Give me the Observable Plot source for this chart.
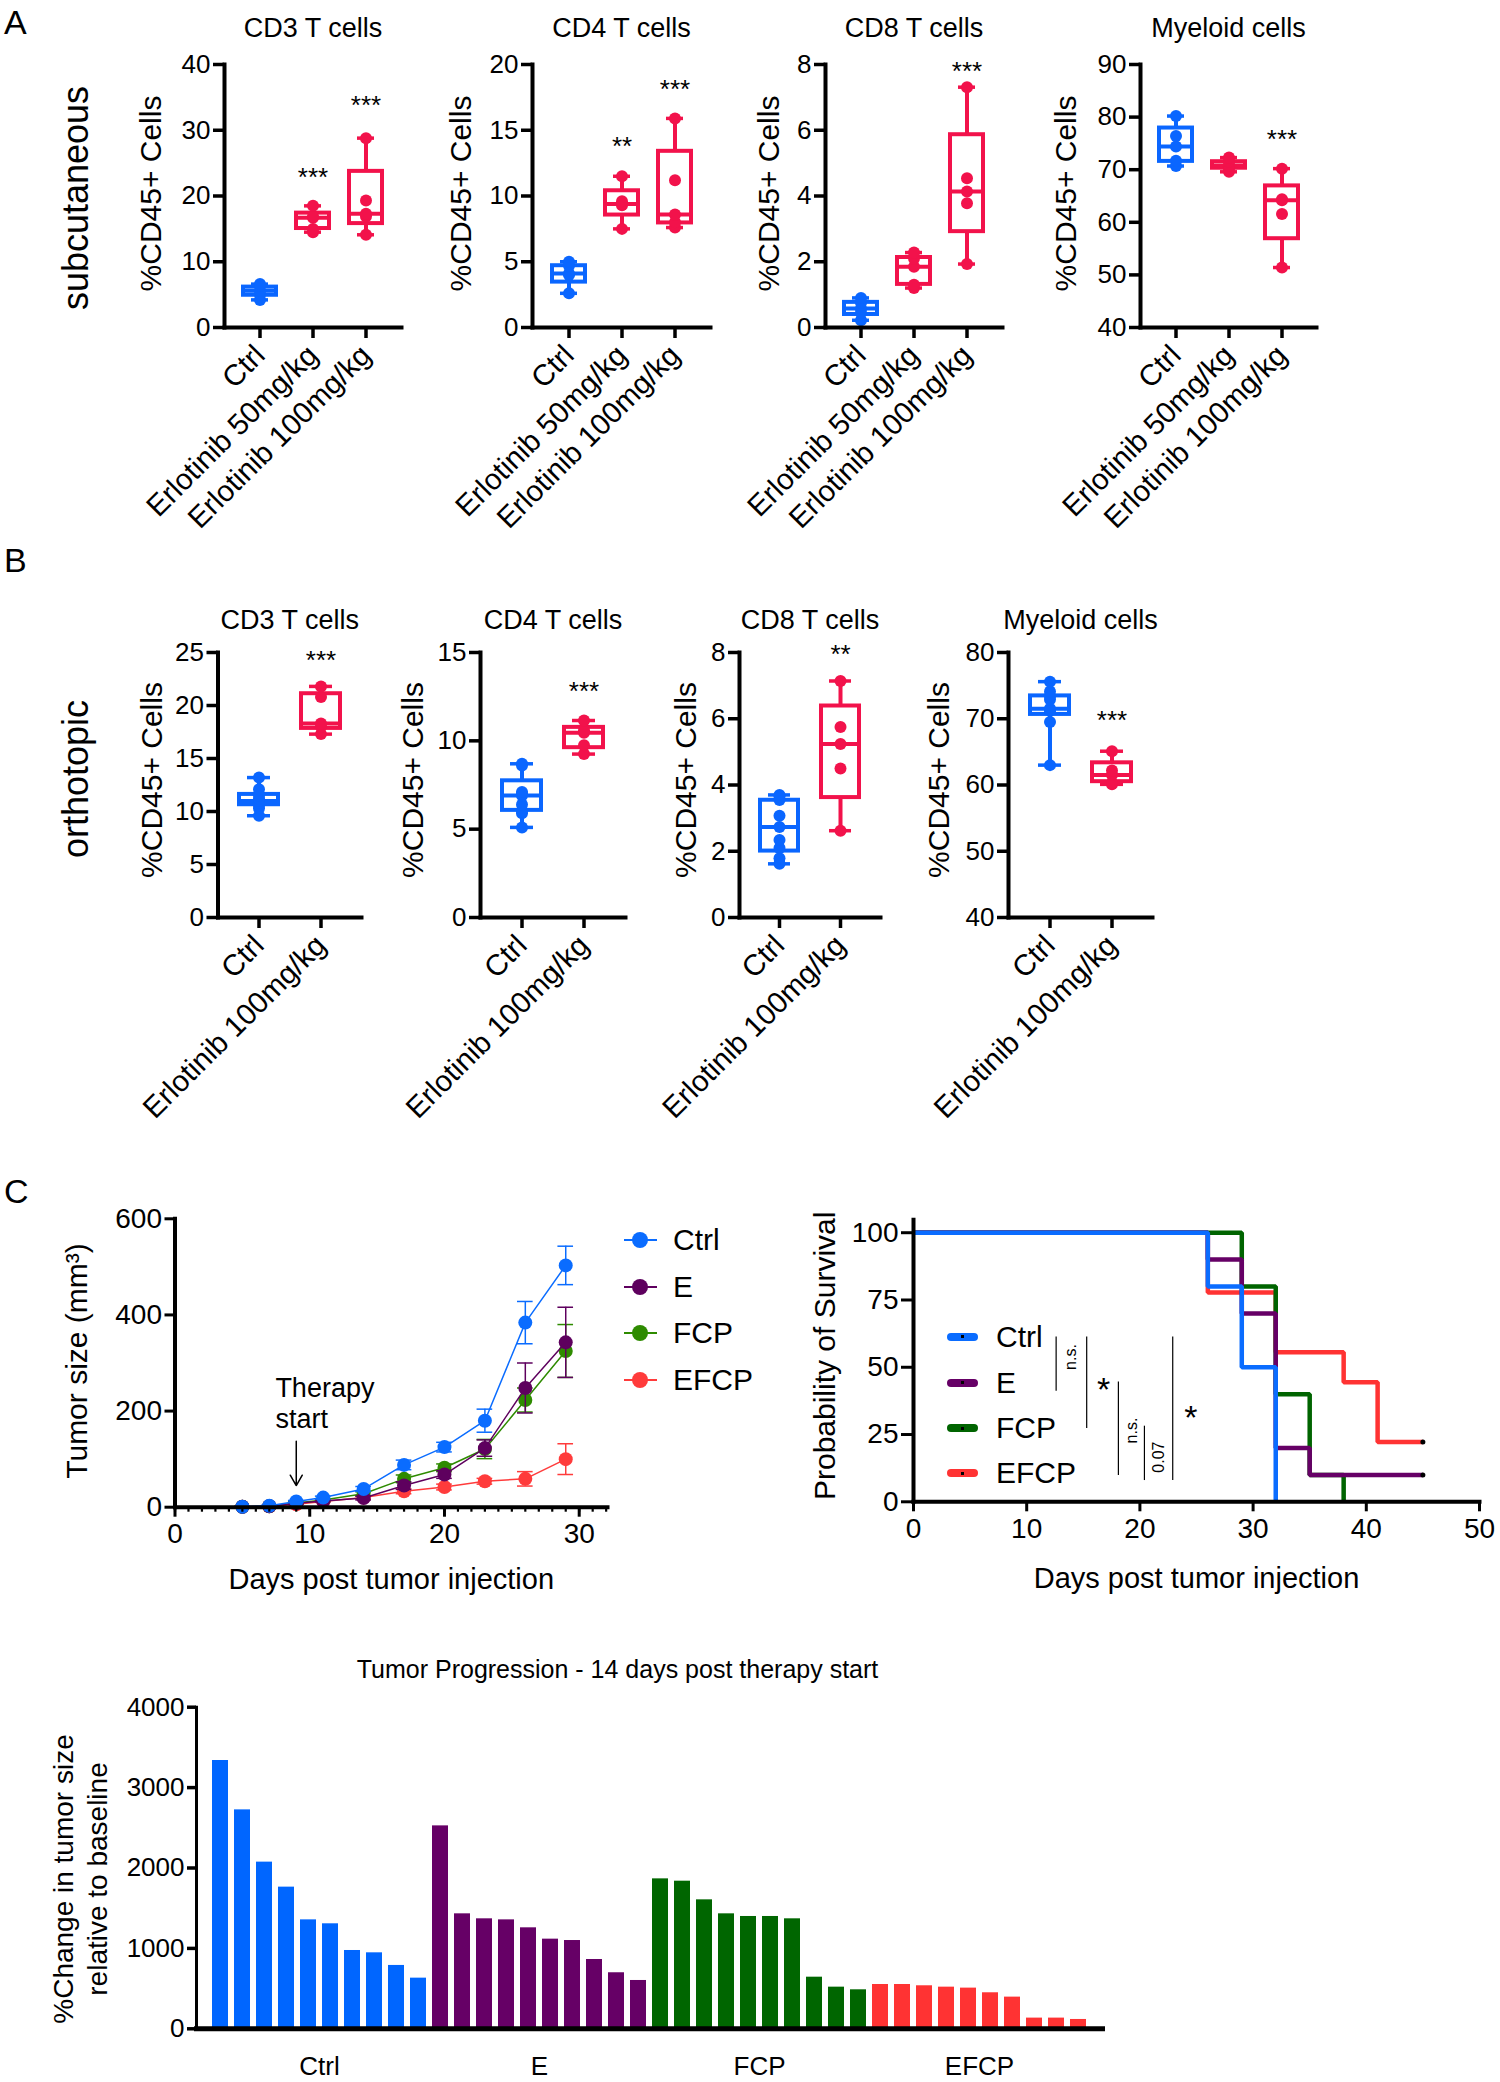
<!DOCTYPE html>
<html><head><meta charset="utf-8">
<script src="https://cdn.jsdelivr.net/npm/d3@7"></script>
<script src="https://cdn.jsdelivr.net/npm/@observablehq/plot@0.6"></script>
<style>
html,body{margin:0;padding:0;background:#fff;}
#root{position:relative;width:1500px;height:2082px;overflow:hidden;background:#fff;font-family:'Liberation Sans',Arial,Helvetica,sans-serif;color:#000;}
.abs{position:absolute;white-space:nowrap;line-height:1;}
</style></head>
<body><div id="root"></div>
<script>
// ---------------- DATA ----------------
const aCats = ["Ctrl", "Erlotinib 50mg/kg", "Erlotinib 100mg/kg"];
const bCats = ["Ctrl", "Erlotinib 100mg/kg"];

const aCD3 = [[4.2, 5.0, 5.6, 6.3, 6.6], [14.5, 15.0, 16.7, 16.9, 18.5], [14.1, 16.9, 17.3, 19.3, 28.8]];
const aCD4 = [[2.6, 4.0, 4.1, 4.7, 5.0], [7.5, 9.3, 9.4, 9.6, 11.5], [7.6, 8.0, 8.6, 11.2, 15.9]];
const aCD8 = [[0.22, 0.45, 0.58, 0.75, 0.9], [1.2, 1.3, 1.85, 2.1, 2.28], [1.93, 3.78, 4.14, 4.54, 7.31]];
const aMyeloid = [[70.7, 71.7, 74.4, 76.4, 80.2], [69.6, 70.2, 70.8, 71.5, 72.3], [51.4, 61.6, 64.2, 64.4, 70.2]];
const aStarsCD3 = ["", "***", "***"], aStarYCD3 = [null, 23.8, 34.8];
const aStarsCD4 = ["", "**", "***"], aStarYCD4 = [null, 14.3, 18.6];
const aStarsCD8 = ["", "", "***"], aStarYCD8 = [null, null, 8.0];
const aStarsMye = ["", "", "***"], aStarYMye = [null, null, 77];

const bCD3 = [[9.6, 10.3, 10.6, 10.8, 11.0, 11.2, 11.5, 12.1, 13.2], [17.3, 18.0, 18.3, 20.8, 21.8]];
const bCD4 = [[5.1, 5.9, 6.0, 6.4, 6.9, 7.0, 7.1, 8.6, 8.7], [9.25, 9.75, 10.46, 10.6, 11.15]];
const bCD8 = [[1.62, 1.79, 2.1, 2.34, 2.73, 3.07, 3.55, 3.65, 3.7], [2.62, 4.5, 5.24, 5.75, 7.14]];
const bMyeloid = [[63.0, 69.5, 71.2, 71.4, 71.5, 72.9, 73.4, 74.1, 75.6], [60.1, 60.3, 61.5, 62.2, 65.1]];
const bStarsCD3 = ["", "***"], bStarYCD3 = [null, 24.9];
const bStarsCD4 = ["", "***"], bStarYCD4 = [null, 13.2];
const bStarsCD8 = ["", "**"], bStarYCD8 = [null, 8.15];
const bStarsMye = ["", "***"], bStarYMye = [null, 70.7];

const treatGroups = ["Ctrl", "E", "FCP", "EFCP"];
const tumorDays = [5, 7, 9, 11, 14, 17, 20, 23, 26, 29];
const tumorCtrl = [1, 3, 12, 20, 38, 88, 125, 180, 384, 503];
const tumorCtrlErr = [0.5, 1, 2, 3, 5, 10, 10, 24, 44, 40];
const tumorE = [1, 2, 8, 13, 19, 45, 68, 123, 248, 343];
const tumorEErr = [0.5, 1, 2, 2, 4, 8, 8, 17, 52, 73];
const tumorFCP = [1, 2, 9, 15, 28, 59, 82, 121, 223, 325];
const tumorFCPErr = [0.5, 1, 2, 3, 4, 8, 8, 20, 25, 55];
const tumorEFCP = [1, 2, 6, 12, 20, 33, 42, 54, 59, 100];
const tumorEFCPErr = [0.5, 1, 1, 2, 3, 5, 6, 6, 15, 32];
const therapyStartDay = 9;

const survCtrl = [[0, 100], [26, 80], [29, 50], [32, 0]];
const survE = [[0, 100], [26, 90], [29, 70], [32, 20], [35, 10], [45, 10]];
const survFCP = [[0, 100], [29, 80], [32, 40], [35, 10], [38, 0]];
const survEFCP = [[0, 100], [26, 77.8], [32, 55.6], [38, 44.4], [41, 22.2], [45, 22.2]];
const survCensored = [[45, 22.2], [45, 10]];
const survBrackets = [
  {day: 12.6, top: 61.2, bottom: 41.1, note: "n.s.", noteDay: 13.9, noteY: 53.8},
  {day: 15.3, top: 61.2, bottom: 27.2, note: "*", noteDay: 16.8, noteY: 45},
  {day: 18.1, top: 44.5, bottom: 9.8, note: "n.s.", noteDay: 19.3, noteY: 26.5},
  {day: 20.4, top: 28.1, bottom: 7.9, note: "0.07", noteDay: 21.7, noteY: 16.6},
  {day: 22.9, top: 61.2, bottom: 7.9, note: "*", noteDay: 24.5, noteY: 34.6}
];

const wfCtrl = [3337, 2723, 2073, 1762, 1355, 1306, 974, 945, 788, 630];
const wfE = [2524, 1430, 1368, 1355, 1256, 1115, 1098, 862, 697, 601];
const wfFCP = [1865, 1836, 1604, 1430, 1397, 1397, 1368, 642, 518, 485];
const wfEFCP = [551, 551, 535, 518, 506, 448, 394, 133, 133, 116];

// ---------------- STYLE ----------------
const FONT = "'Liberation Sans', Arial, Helvetica, sans-serif";
const BOX_BLUE = "#0a66ff", BOX_RED = "#f2124b";
const LINE_COL = {Ctrl: "#0a6cff", E: "#5e005e", FCP: "#2e8b00", EFCP: "#ff3b3b"};
const SURV_COL = {Ctrl: "#0a6cff", E: "#660066", FCP: "#006400", EFCP: "#ff3333"};
const BAR_COL = {Ctrl: "#0066ff", E: "#660066", FCP: "#006600", EFCP: "#ff3333"};

const root = document.getElementById("root");
function place(node, left, top) {
  const d = document.createElement("div");
  d.style.cssText = `position:absolute;left:${left}px;top:${top}px;`;
  d.appendChild(node);
  root.appendChild(d);
}
function htmlText(txt, {left, top, size, rotate = 0, center = false, weight = "normal"}) {
  const d = document.createElement("div");
  d.className = "abs";
  d.textContent = txt;
  d.style.left = left + "px";
  d.style.top = top + "px";
  d.style.fontSize = size + "px";
  d.style.fontWeight = weight;
  if (center) d.style.transform = `translate(-50%,-50%) rotate(${rotate}deg)`;
  root.appendChild(d);
  return d;
}
const plotStyle = {fontFamily: FONT, overflow: "visible", background: "transparent", color: "black"};

// Prism-style quartiles (position p*(n+1))
function pq(s, p) {
  const n = s.length, pos = p * (n + 1), lo = Math.floor(pos), f = pos - lo;
  if (lo < 1) return s[0];
  if (lo >= n) return s[n - 1];
  return s[lo - 1] + f * (s[lo] - s[lo - 1]);
}
function stats(values) {
  const s = [...values].sort((a, b) => a - b);
  return {min: s[0], max: s[s.length - 1], q1: pq(s, 0.25), med: pq(s, 0.5), q3: pq(s, 0.75)};
}
const centerText = {textAnchor: "middle", lineAnchor: "middle"};

function boxPanel(c) {
  const colors = c.cats.map((_, i) => i === 0 ? BOX_BLUE : BOX_RED);
  const st = c.cats.map((cat, i) => ({cat, color: colors[i], ...stats(c.groups[i])}));
  const pts = c.cats.flatMap((cat, i) => c.groups[i].map(v => ({cat, v, color: colors[i]})));
  const sd = c.cats.map((cat, i) => ({cat, s: c.stars[i], v: c.starY[i]})).filter(d => d.s);
  const svg = Plot.plot({
    width: c.w, height: c.h,
    marginLeft: c.fl - c.left, marginRight: c.left + c.w - c.fr,
    marginTop: c.ft - c.top, marginBottom: c.top + c.h - c.fb,
    style: plotStyle,
    x: {type: "band", domain: c.cats, paddingInner: 0.31, paddingOuter: 0.31},
    y: {domain: c.domain},
    color: {type: "identity"},
    marks: [
      Plot.ruleX(st, {x: "cat", y1: "min", y2: "max", stroke: "color", strokeWidth: 4}),
      Plot.tickY(st, {x: "cat", y: "min", stroke: "color", strokeWidth: 3.5, inset: 10}),
      Plot.tickY(st, {x: "cat", y: "max", stroke: "color", strokeWidth: 3.5, inset: 10}),
      Plot.barY(st, {x: "cat", y1: "q1", y2: "q3", fill: "white", stroke: "color", strokeWidth: 4, inset: 2}),
      Plot.tickY(st, {x: "cat", y: "med", stroke: "color", strokeWidth: 4, inset: 2}),
      Plot.dot(pts, {x: "cat", y: "v", r: 6, fill: "color"}),
      Plot.text(sd, {x: "cat", y: "v", text: "s", fontSize: 26, dy: 7}),
      Plot.frame({anchor: "left", strokeWidth: 4}),
      Plot.frame({anchor: "bottom", strokeWidth: 4}),
      Plot.axisY({ticks: c.ticks, tickSize: 11, strokeWidth: 3.5, fontSize: 26, label: null}),
      Plot.axisX({tickSize: 11, strokeWidth: 3.5, fontSize: 29.5, tickRotate: -45, label: null, tickPadding: 12}),
      Plot.text([c.title], {frameAnchor: "top", dy: c.tdy, fontSize: 27, ...centerText}),
      Plot.text(["%CD45+ Cells"], {frameAnchor: "left", rotate: -90, dx: c.ldx, dy: c.ldy, fontSize: 30, ...centerText})
    ]
  });
  place(svg, c.left, c.top);
}

// ---------------- PANEL A ----------------
const aRow = {top: 0, h: 560, ft: 64, fb: 327, cats: aCats, tdy: -36, ldy: -2.5};
boxPanel({...aRow, left: 90, w: 330, fl: 224, fr: 401, groups: aCD3, domain: [0, 40], ticks: [0, 10, 20, 30, 40], title: "CD3 T cells", stars: aStarsCD3, starY: aStarYCD3, ldx: -73});
boxPanel({...aRow, left: 400, w: 330, fl: 532, fr: 710, groups: aCD4, domain: [0, 20], ticks: [0, 5, 10, 15, 20], title: "CD4 T cells", stars: aStarsCD4, starY: aStarYCD4, ldx: -71});
boxPanel({...aRow, left: 720, w: 310, fl: 825, fr: 1002, groups: aCD8, domain: [0, 8], ticks: [0, 2, 4, 6, 8], title: "CD8 T cells", stars: aStarsCD8, starY: aStarYCD8, ldx: -56});
boxPanel({...aRow, left: 1030, w: 310, fl: 1140, fr: 1316, groups: aMyeloid, domain: [40, 90], ticks: [40, 50, 60, 70, 80, 90], title: "Myeloid cells", stars: aStarsMye, starY: aStarYMye, ldx: -74});

// ---------------- PANEL B ----------------
const bRow = {top: 560, h: 560, ft: 652, fb: 917, cats: bCats, tdy: -32.5, ldy: -5};
boxPanel({...bRow, left: 90, w: 290, fl: 217.5, fr: 361, groups: bCD3, domain: [0, 25], ticks: [0, 5, 10, 15, 20, 25], title: "CD3 T cells", stars: bStarsCD3, starY: bStarYCD3, ldx: -66});
boxPanel({...bRow, left: 380, w: 260, fl: 480, fr: 625, groups: bCD4, domain: [0, 15], ticks: [0, 5, 10, 15], title: "CD4 T cells", stars: bStarsCD4, starY: bStarYCD4, ldx: -67});
boxPanel({...bRow, left: 650, w: 250, fl: 739, fr: 880, groups: bCD8, domain: [0, 8], ticks: [0, 2, 4, 6, 8], title: "CD8 T cells", stars: bStarsCD8, starY: bStarYCD8, ldx: -53});
boxPanel({...bRow, left: 910, w: 260, fl: 1008, fr: 1152, groups: bMyeloid, domain: [40, 80], ticks: [40, 50, 60, 70, 80], title: "Myeloid cells", stars: bStarsMye, starY: bStarYMye, ldx: -69});

// ---------------- PANEL C : tumor growth ----------------
const tumorSeries = {Ctrl: [tumorCtrl, tumorCtrlErr], E: [tumorE, tumorEErr], FCP: [tumorFCP, tumorFCPErr], EFCP: [tumorEFCP, tumorEFCPErr]};
const drawOrder = ["EFCP", "FCP", "E", "Ctrl"];
const tumorMarks = drawOrder.flatMap(g => {
  const [vals, errs] = tumorSeries[g];
  const data = tumorDays.map((day, i) => ({day, v: vals[i], e: errs[i]}));
  const col = LINE_COL[g];
  return [
    Plot.ruleX(data, {x: "day", y1: d => d.v - d.e, y2: d => d.v + d.e, stroke: col, strokeWidth: 1.5}),
    Plot.ruleY(data, {y: d => d.v + d.e, x1: d => d.day - 0.58, x2: d => d.day + 0.58, stroke: col, strokeWidth: 1.5}),
    Plot.ruleY(data, {y: d => d.v - d.e, x1: d => d.day - 0.58, x2: d => d.day + 0.58, stroke: col, strokeWidth: 1.5}),
    Plot.line(data, {x: "day", y: "v", stroke: col, strokeWidth: 1.5}),
    Plot.dot(data, {x: "day", y: "v", r: 7, fill: col})
  ];
});
const tumorSvg = Plot.plot({
  width: 720, height: 460,
  marginLeft: 174.5, marginRight: 113, marginTop: 58.3, marginBottom: 113.3,
  style: plotStyle,
  x: {domain: [0, 32.1]},
  y: {domain: [0, 600]},
  marks: [
    ...tumorMarks,
    Plot.text(["Therapy\nstart"], {x: therapyStartDay - 1.55, y: 218, textAnchor: "start", lineAnchor: "middle", fontSize: 27, lineHeight: 1.15}),
    Plot.arrow([therapyStartDay], {x1: d => d, x2: d => d, y1: 137, y2: 45, strokeWidth: 1.5, headLength: 12}),
    Plot.frame({anchor: "left", strokeWidth: 4}),
    Plot.frame({anchor: "bottom", strokeWidth: 4}),
    Plot.axisX({ticks: d3.range(0, 33), tickSize: 5, strokeWidth: 2.2, tickFormat: () => "", label: null}),
    Plot.axisX({ticks: [0, 10, 20, 30], tickSize: 10, strokeWidth: 3, fontSize: 28, label: null, tickPadding: 6}),
    Plot.axisY({ticks: [0, 200, 400, 600], tickSize: 10, strokeWidth: 3, fontSize: 28, label: null}),
    Plot.text(["Days post tumor injection"], {frameAnchor: "bottom", dy: 73, fontSize: 29, ...centerText}),
    Plot.text(["Tumor size (mm³)"], {frameAnchor: "left", rotate: -90, dx: -98, dy: -2, fontSize: 30, ...centerText})
  ]
});
place(tumorSvg, 0, 1160);

// legend for tumor chart
const tumorLegendY = [1240, 1286.5, 1333, 1380];
treatGroups.forEach((g, i) => {
  const y = tumorLegendY[i];
  const ln = document.createElement("div");
  ln.style.cssText = `position:absolute;left:624px;top:${y - 1}px;width:33px;height:2px;background:${LINE_COL[g]};`;
  root.appendChild(ln);
  const dt = document.createElement("div");
  dt.style.cssText = `position:absolute;left:${640 - 8}px;top:${y - 8}px;width:16px;height:16px;border-radius:50%;background:${LINE_COL[g]};`;
  root.appendChild(dt);
  const t = htmlText(g, {left: 673, top: y, size: 30});
  t.style.transform = "translateY(-50%)";
});

// ---------------- PANEL C : survival ----------------
const survSeries = {Ctrl: survCtrl, E: survE, FCP: survFCP, EFCP: survEFCP};
const survSvg = Plot.plot({
  width: 740, height: 460,
  marginLeft: 153, marginRight: 21, marginTop: 59.3, marginBottom: 118.7,
  style: plotStyle,
  x: {domain: [0, 50]},
  y: {domain: [0, 104.8]},
  marks: [
    ...drawOrder.map(g => Plot.line(survSeries[g], {x: d => d[0], y: d => d[1], curve: "step-after", stroke: SURV_COL[g], strokeWidth: 4.5, strokeLinejoin: "miter", strokeLinecap: "butt"})),
    Plot.dot(survCensored, {x: d => d[0], y: d => d[1], r: 2.5, fill: "black"}),
    Plot.ruleX(survBrackets, {x: "day", y1: "bottom", y2: "top", strokeWidth: 1.2}),
    Plot.text(survBrackets.filter(d => d.note !== "*"), {x: "noteDay", y: "noteY", text: "note", rotate: -90, fontSize: 16}),
    Plot.text(survBrackets.filter(d => d.note === "*"), {x: "noteDay", y: "noteY", text: "note", fontSize: 34, dy: 9}),
    Plot.frame({anchor: "left", strokeWidth: 4}),
    Plot.frame({anchor: "bottom", strokeWidth: 4}),
    Plot.axisX({ticks: [0, 10, 20, 30, 40, 50], tickSize: 10, strokeWidth: 3, fontSize: 28, label: null, tickPadding: 6}),
    Plot.axisY({ticks: [0, 25, 50, 75, 100], tickSize: 12, strokeWidth: 3, fontSize: 28, label: null}),
    Plot.text(["Days post tumor injection"], {frameAnchor: "bottom", dy: 77, fontSize: 29, ...centerText}),
    Plot.text(["Probability of Survival"], {frameAnchor: "left", rotate: -90, dx: -88, dy: -5, fontSize: 30, ...centerText})
  ]
});
place(survSvg, 760, 1160);

const survLegendY = [1336.5, 1382.5, 1428, 1473];
treatGroups.forEach((g, i) => {
  const y = survLegendY[i];
  const ln = document.createElement("div");
  ln.style.cssText = `position:absolute;left:947px;top:${y - 4}px;width:31px;height:8px;border-radius:4px;background:${SURV_COL[g]};`;
  root.appendChild(ln);
  const dt = document.createElement("div");
  dt.style.cssText = `position:absolute;left:961px;top:${y - 1.5}px;width:3px;height:3px;background:#000;`;
  root.appendChild(dt);
  const t = htmlText(g, {left: 996, top: y, size: 30});
  t.style.transform = "translateY(-50%)";
});

// ---------------- PANEL C : waterfall ----------------
const wfSeries = {Ctrl: wfCtrl, E: wfE, FCP: wfFCP, EFCP: wfEFCP};
const wfData = treatGroups.flatMap(g => wfSeries[g].map((v, i) => ({id: `${g}-${i}`, group: g, v})));
const wfSvg = Plot.plot({
  width: 1500, height: 442,
  marginLeft: 196, marginRight: 398, marginTop: 66.7, marginBottom: 53.7,
  style: plotStyle,
  x: {type: "band", domain: wfData.map(d => d.id), paddingInner: 0.256, paddingOuter: 0, insetLeft: 7.3, insetRight: 6, axis: null},
  y: {domain: [0, 4000]},
  marks: [
    Plot.barY(wfData, {x: "id", y: "v", fill: d => BAR_COL[d.group]}),
    Plot.frame({anchor: "left", strokeWidth: 3}),
    Plot.axisY({ticks: [0, 1000, 2000, 3000, 4000], tickFormat: d => String(d), tickSize: 9, strokeWidth: 3.5, fontSize: 26, label: null}),
    Plot.frame({anchor: "bottom", strokeWidth: 5}),
    Plot.text(treatGroups, {x: g => `${g}-4`, frameAnchor: "bottom", dx: 11, dy: 38, fontSize: 26, ...centerText}),
    Plot.text(["Tumor Progression - 14 days post therapy start"], {frameAnchor: "top", dx: -32, dy: -37, fontSize: 25, ...centerText}),
    Plot.text(["%Change in tumor size\nrelative to baseline"], {frameAnchor: "left", rotate: -90, dx: -117, dy: 11, fontSize: 28, lineHeight: 1.2, ...centerText})
  ]
});
place(wfSvg, 0, 1640);

// ---------------- panel letters & row labels ----------------
htmlText("A", {left: 4, top: 4.5, size: 34});
htmlText("B", {left: 4, top: 542.5, size: 34});
htmlText("C", {left: 4, top: 1173.5, size: 34});
htmlText("subcutaneous", {left: 76, top: 198, size: 36, rotate: -90, center: true});
htmlText("orthotopic", {left: 76, top: 779, size: 36, rotate: -90, center: true});
</script>
</body></html>
